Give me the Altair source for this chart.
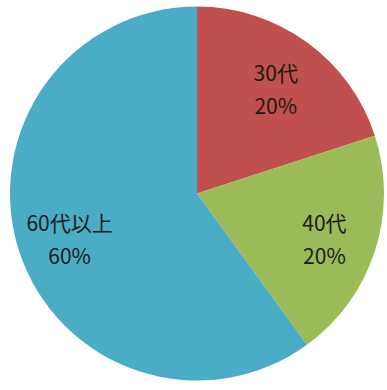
import altair as alt
import pandas as pd

categories = ["30代", "40代", "60代以上"]
values = [20, 20, 60]
pct_labels = ["20%", "20%", "60%"]
colors = ["#C0504D", "#9BBB59", "#4BACC6"]

df = pd.DataFrame({
    "cat": categories,
    "value": values,
    "label": [f"{c}\n{p}" for c, p in zip(categories, pct_labels)],
    "order": list(range(len(categories))),
})

base = alt.Chart(df).encode(
    theta=alt.Theta("value:Q", stack=True),
    order=alt.Order("order:Q"),
    x=alt.value(197),
    y=alt.value(193.5),
)

pie = base.mark_arc(radius=187).encode(
    color=alt.Color("cat:N", scale=alt.Scale(domain=categories, range=colors), legend=None)
)

text = base.mark_text(
    radius=134, fontSize=21, font="Noto Sans CJK JP", color="#1a1a1a",
    lineBreak="\n", lineHeight=33, baseline="middle", align="center", dy=-10
).encode(text="label:N")

chart = (pie + text).properties(
    width=387, height=390, padding=0, autosize=alt.AutoSizeParams(type="none")
).configure_view(stroke=None)

chart.save("out.html", embed_options={"renderer": "svg", "actions": False})
